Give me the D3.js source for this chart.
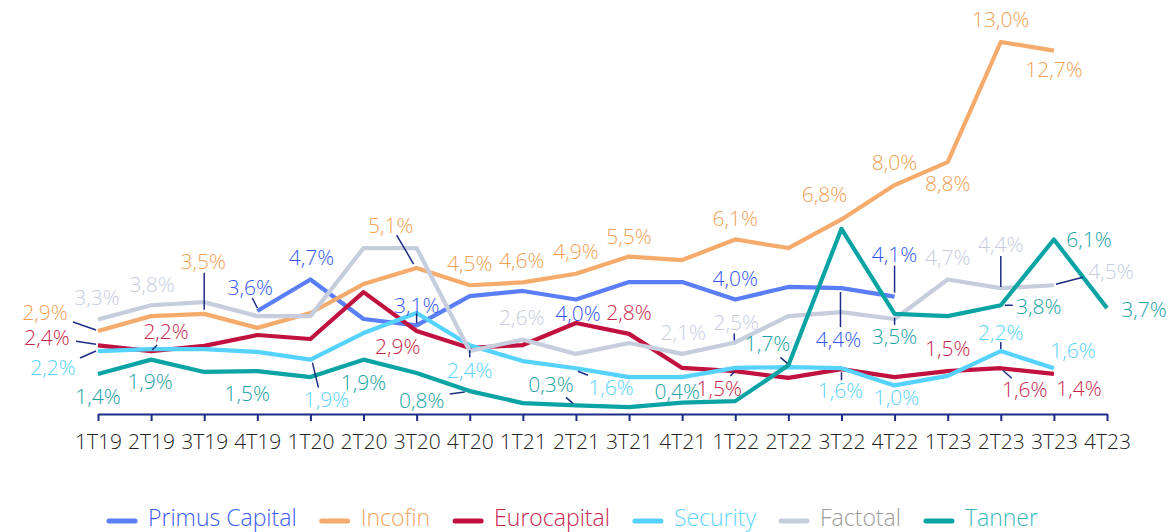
<!DOCTYPE html>
<html>
<head>
<meta charset="utf-8">
<script src="https://cdn.jsdelivr.net/npm/d3@7"></script>
<style>
  html, body { margin: 0; padding: 0; background: #fff; }
  svg { display: block; }
  text { font-family: "Open Sans", "Noto Sans", sans-serif; }
</style>
</head>
<body>
<svg id="chart" width="1173" height="532"></svg>
<script>
// ---------- DATA ----------
const categories = ["1T19","2T19","3T19","4T19","1T20","2T20","3T20","4T20","1T21","2T21",
                    "3T21","4T21","1T22","2T22","3T22","4T22","1T23","2T23","3T23","4T23"];
const seriesNames = ["Primus Capital","Incofin","Eurocapital","Security","Factotal","Tanner"];

const primusCapital = [null,null,null,3.6,4.7,3.32,3.1,4.12,4.30,4.0,4.61,4.61,4.0,4.44,4.4,4.1,null,null,null,null];
const incofin       = [2.9,3.42,3.5,3.01,3.53,4.54,5.1,4.5,4.6,4.9,5.5,5.38,6.1,5.8,6.8,8.0,8.8,13.0,12.7,null];
const eurocapital   = [2.4,2.2,2.38,2.76,2.62,4.26,2.9,2.31,2.41,3.18,2.8,1.61,1.5,1.26,1.57,1.29,1.5,1.6,1.4,null];
const security      = [2.2,2.27,2.27,2.17,1.9,2.83,3.53,2.4,1.85,1.6,1.29,1.29,1.61,1.64,1.6,1.0,1.33,2.2,1.6,null];
const factotal      = [3.3,3.8,3.91,3.42,3.42,5.8,5.8,2.2,2.6,2.1,2.48,2.1,2.5,3.42,3.56,3.32,4.7,4.4,4.5,null];
const tanner        = [1.4,1.9,1.47,1.5,1.29,1.9,1.43,0.8,0.38,0.3,0.24,0.4,0.45,1.7,6.47,3.5,3.42,3.8,6.1,3.7];

const seriesValues = [primusCapital, incofin, eurocapital, security, factotal, tanner];

// data labels: series index, category index, text
const labelSeries = [4,4,1,0,0,1,1,2,3,5,2,5,5,3,5,0,2,3,5,1,1,1,1,1,4,0,2,0,4,4,5,3,5,2,5,0,3,5,0,3,2,4,4,5,3,2,2,3,5,4,5,1,1,1,1,1];
const labelCat    = [0,1,2,3,4,6,0,0,0,0,1,1,3,4,5,6,6,7,7,7,8,9,10,12,8,9,10,12,11,12,9,9,11,12,13,14,14,15,15,15,16,16,17,17,17,17,18,18,18,18,19,17,18,15,16,14];
const labelText   = ["3,3%","3,8%","3,5%","3,6%","4,7%","5,1%","2,9%","2,4%","2,2%","1,4%","2,2%","1,9%","1,5%","1,9%","1,9%","3,1%","2,9%","2,4%","0,8%","4,5%","4,6%","4,9%","5,5%","6,1%","2,6%","4,0%","2,8%","4,0%","2,1%","2,5%","0,3%","1,6%","0,4%","1,5%","1,7%","4,4%","1,6%","3,5%","4,1%","1,0%","1,5%","4,7%","4,4%","3,8%","2,2%","1,6%","1,4%","1,6%","6,1%","4,5%","3,7%","13,0%","12,7%","8,0%","8,8%","6,8%"];

// ---------- LAYOUT / STYLE ----------
const lineColors  = ["#5A7EF8","#F5AB6C","#C1113F","#55D2FD","#C6CDDD","#0BA3A3"];
const labelColors = ["#3556F2","#F29F55","#C9264F","#5CD3FB","#C7CDDF","#1AA3A6"];
const legendTextColors = ["#3A5CF5","#F5A55F","#C9264F","#5FD6FF","#9C9C9C","#3AB8BD"];
const navy = "#1C2D85";

// label offsets relative to the data point [dx, dy] and optional leader [x1,y1,x2,y2]
const labelLayout = [
  [-1,-22],[1,-21],[-1,-52,[0,-41,0,-4]],[-7,-24,[-5,-13,0,-3]],[1,-22],[-26,-43,[-20,-33,-3,-4]],
  [-53,-19,[-25,-9,-2,-1]],[-51,-8,[-22,-4,-2,-1]],[-45,16,[-18,7,-2,0]],[0,23],
  [15,-20,[1,-1,6,-6]],[-1,22],[-10,22],[16,40,[2,3,8,28]],[0,23],
  [0,-20,[0,-12,0,-2]],[-19,15],[0,25,[0,5,0,12]],[-48,9,[-20,3,-5,1]],
  [0,-22],[-1,-22],[0,-22],[0,-20],[0,-21],
  [-1,-22],[2,14],[0,-21],[0,-21],[1,-21],[1,-20,[-1,-9,-1,-2]],
  [-25,-21,[-10,-8,-3,-2]],[35,19,[2,3,12,7]],[-5,-11],[-16,17,[-5,5,-1,1]],
  [-21,-22,[-8,-8,-1,-2]],[-3,51,[-1,4,-1,39]],[-1,22,[0,4,0,12]],[0,23,[0,4,0,11]],
  [0,-42,[0,-31,0,-4]],[2,12],[0,-23],[0,-22],[0,-44,[0,-32,0,-1]],
  [38,1,[4,0,12,0]],[0,-19,[0,-9,0,-2]],[24,21,[2,2,11,10]],[25,15],[19,-18],
  [35,0],[57,-14,[2,-1,29,-8]],[37,1],[0,-23],[0,19],[0,-23],[0,21],[-17,-25]
];

const svg = d3.select("#chart");

const x = d3.scalePoint().domain(categories).range([98, 1107]);
const y = d3.scaleLinear().domain([0, 13]).range([414, 42]);

// axis
const axis = svg.append("g")
  .attr("transform", "translate(0,414)")
  .call(d3.axisBottom(x).tickSize(7).tickSizeOuter(0).tickPadding(13));
axis.select(".domain").attr("stroke", navy).attr("stroke-width", 2);
axis.selectAll(".tick line").attr("stroke", navy).attr("stroke-width", 2);
axis.selectAll(".tick text")
  .attr("fill", "#222")
  .style("font-family", '"Open Sans", sans-serif')
  .style("font-size", "21px")
  .style("font-weight", 300);

// lines
const line = d3.line()
  .defined(d => d.v !== null)
  .x(d => x(d.c))
  .y(d => y(d.v));

seriesNames.forEach((name, si) => {
  const pts = categories.map((c, i) => ({c, v: seriesValues[si][i]}));
  svg.append("path")
    .datum(pts)
    .attr("fill", "none")
    .attr("stroke", lineColors[si])
    .attr("stroke-width", 4.2)
    .attr("stroke-linejoin", "round")
    .attr("d", line);
});

// leaders + labels
const gLab = svg.append("g");
labelText.forEach((t, k) => {
  const si = labelSeries[k], ci = labelCat[k];
  const px = x(categories[ci]), py = y(seriesValues[si][ci]);
  const lay = labelLayout[k];
  if (lay[2]) {
    const L = lay[2];
    gLab.append("line")
      .attr("x1", px + L[0]).attr("y1", py + L[1])
      .attr("x2", px + L[2]).attr("y2", py + L[3])
      .attr("stroke", navy).attr("stroke-width", 1.5);
  }
  gLab.append("text")
    .attr("x", px + lay[0]).attr("y", py + lay[1])
    .attr("dy", "0.36em")
    .attr("text-anchor", "middle")
    .attr("fill", labelColors[si])
    .style("font-size", "21px")
    .style("font-weight", 300)
    .text(t);
});

// legend
const legend = svg.append("g");
let lx = 107;
seriesNames.forEach((name, si) => {
  legend.append("line")
    .attr("x1", lx + 2).attr("x2", lx + 28)
    .attr("y1", 521).attr("y2", 521)
    .attr("stroke", lineColors[si]).attr("stroke-width", 5)
    .attr("stroke-linecap", "round");
  const tx = legend.append("text")
    .attr("x", lx + 41).attr("y", 526)
    .attr("fill", legendTextColors[si])
    .style("font-size", "23px")
    .style("font-weight", 300)
    .text(name);
  lx += 41 + tx.node().getComputedTextLength() + 23;
});
</script>
</body>
</html>
